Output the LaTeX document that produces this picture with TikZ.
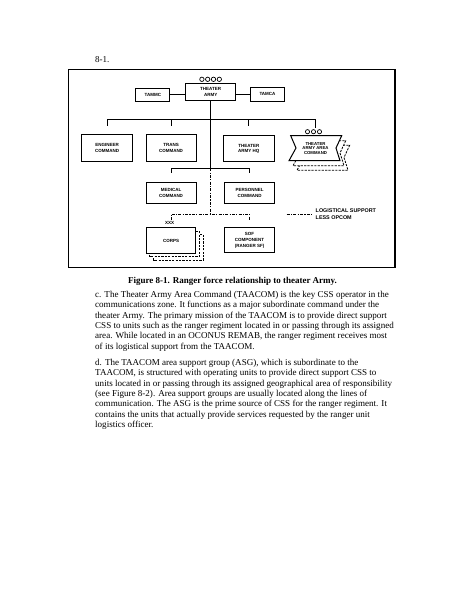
\documentclass[tikz,border=0pt]{standalone}
\usepackage{fontspec}
\setmainfont{Liberation Serif}
\newfontfamily\lblfont{Liberation Sans}
\usetikzlibrary{calc}
\tikzset{
  orgbox/.style={draw, line width=1pt, fill=white, align=center, inner sep=0pt,
    font=\lblfont\bfseries\fontsize{4.5}{5.8}\selectfont},
  conn/.style={line width=1pt},
  logi/.style={line width=1pt, dash pattern=on 3pt off 1.3pt on 1.1pt off 1.3pt},
  shadowline/.style={line width=0.8pt, dash pattern=on 2.2pt off 1.2pt, fill=white},
  bodyline/.style={anchor=base west, inner sep=0pt, font=\fontsize{9.05}{10}\selectfont},
  echelon/.style={line width=0.7pt},
}
\begin{document}
\begin{tikzpicture}[x=1pt,y=-1pt]
\useasboundingbox (0,0) rectangle (463,599);
\fill[white] (0,0) rectangle (463,599);

\node[anchor=base west, inner sep=0pt, font=\fontsize{9}{10}\selectfont] (num) at (95,63) {8-1.};

% frame
\draw[line width=1.3pt] (68.3,69.5) rectangle (395,267.5);

% top row
\node[orgbox, minimum width=50pt, minimum height=17.4pt] (ta) at (210.7,92) {THEATER\\ARMY};
\node[orgbox, minimum width=34.3pt, minimum height=12.7pt] (tammc) at (152.8,94.7) {TAMMC};
\node[orgbox, minimum width=33.6pt, minimum height=13.7pt] (tamca) at (267.5,94.2) {TAMCA};
\foreach \cx in {201.9,207.7,213.5,219.3} \draw[echelon] (\cx,79.3) circle (2.2pt);

\draw[conn] (tammc.east) -- (tammc.east -| ta.west);
\draw[conn] (tamca.west) -- (tamca.west -| ta.east);

% second row
\node[orgbox, minimum width=51pt, minimum height=26.7pt] (eng) at (107.2,148.3) {ENGINEER\\COMMAND};
\node[orgbox, minimum width=50pt, minimum height=26.7pt] (trans) at (171,148.3) {TRANS\\COMMAND};
\node[orgbox, minimum width=51pt, minimum height=25.7pt] (tahq) at (248.8,148.8) {THEATER\\ARMY HQ};

% TAACOM banner with shadows
\foreach \dx/\dy in {8/9.5,4/5}{
  \draw[shadowline] ($(290.7,135.7)+(\dx,\dy)$) -- ($(341.7,135.7)+(\dx,\dy)$) -- ($(336,148)+(\dx,\dy)$)
     -- ($(340,160.7)+(\dx,\dy)$) -- ($(289,160.7)+(\dx,\dy)$) -- ($(296,148)+(\dx,\dy)$) -- cycle;
}
\draw[line width=1pt, fill=white] (290.7,135.7) -- (341.7,135.7) -- (336,148) -- (340,160.7) -- (289,160.7) -- (296,148) -- cycle;
\node[inner sep=0pt, minimum width=50pt, minimum height=25pt, align=center,
  font=\lblfont\bfseries\fontsize{4.3}{4.6}\selectfont] (taac) at (315.5,148.2) {THEATER\\ARMY AREA\\COMMAND};
\foreach \cx in {307.5,313.5,319.5} \draw[echelon] (\cx,131.7) circle (2.1pt);

% top bus
\coordinate (bus) at (210.7,120);
\draw[conn] (ta.south) -- (bus);
\draw[conn] (eng.north |- bus) -- (taac.north |- bus);
\draw[conn, shorten <=8.6pt] (eng.north) -- (eng.north |- bus);
\draw[conn, shorten <=8.6pt] (trans.north) -- (trans.north |- bus);
\draw[conn, shorten <=9.6pt] (tahq.north) -- (tahq.north |- bus);
\draw[conn, shorten <=8pt] (taac.north) -- (taac.north |- bus);

% third row
\node[orgbox, minimum width=50pt, minimum height=20.6pt] (med) at (171,193) {MEDICAL\\COMMAND};
\node[orgbox, minimum width=50.7pt, minimum height=20.6pt] (pers) at (249.6,193) {PERSONNEL\\COMMAND};
\coordinate (bus2) at (210.7,168.3);
\draw[conn] (bus) -- (bus2);
\draw[conn] (med.north |- bus2) -- (pers.north |- bus2);
\draw[conn, shorten <=9.4pt] (med.north) -- (med.north |- bus2);
\draw[conn, shorten <=9.4pt] (pers.north) -- (pers.north |- bus2);

% bottom row
\foreach \dx/\dy in {7.6/6.7,3.6/3.4}{
  \draw[shadowline] ($(146,227.7)+(\dx,\dy)$) rectangle ($(195.7,253.3)+(\dx,\dy)$);
}
\node[orgbox, minimum width=49.7pt, minimum height=25.6pt] (corps) at (171,240.5) {CORPS};
\node[orgbox, minimum width=50.7pt, minimum height=25pt] (sof) at (249.6,240.2) {SOF\\COMPONENT\\(RANGER SF)};
\node[inner sep=0pt, font=\lblfont\bfseries\fontsize{4.5}{5}\selectfont] (xxx) at (169.5,222.8) {XXX};

\coordinate (logc) at (210.7,214);
\draw[logi] (bus2) -- (logc);
\draw[logi, shorten <=7.2pt, shorten >=7.5pt] (corps.north) |- (logc) -| (sof.north);

% legend
\coordinate (lega) at (286.7,214);
\coordinate (legb) at (312.3,214);
\draw[logi] (lega) -- (legb);
\node[anchor=west, inner sep=0pt, align=left, font=\lblfont\bfseries\fontsize{5.4}{7.6}\selectfont] (legt) at (315.5,214.3) {LOGISTICAL SUPPORT\\LESS OPCOM};

% caption
\node[anchor=base, inner sep=0pt, font=\bfseries\fontsize{9}{10}\selectfont] (cap) at (232.5,283) {Figure 8-1. Ranger force relationship to theater Army.};

% paragraph c
\node[bodyline] (c1) at (95,297.3) {c. The Theater Army Area Command (TAACOM) is the key CSS operator in the};
\node[bodyline] (c2) at (95,307.65) {communications zone. It functions as a major subordinate command under the};
\node[bodyline] (c3) at (95,318) {theater Army. The primary mission of the TAACOM is to provide direct support};
\node[bodyline] (c4) at (95,328.35) {CSS to units such as the ranger regiment located in or passing through its assigned};
\node[bodyline] (c5) at (95,338.7) {area. While located in an OCONUS REMAB, the ranger regiment receives most};
\node[bodyline] (c6) at (95,349.05) {of its logistical support from the TAACOM.};

% paragraph d
\node[bodyline] (d1) at (95,365.3) {d. The TAACOM area support group (ASG), which is subordinate to the};
\node[bodyline] (d2) at (95,375.65) {TAACOM, is structured with operating units to provide direct support CSS to};
\node[bodyline] (d3) at (95,386) {units located in or passing through its assigned geographical area of responsibility};
\node[bodyline] (d4) at (95,396.35) {(see Figure 8-2). Area support groups are usually located along the lines of};
\node[bodyline] (d5) at (95,406.7) {communication. The ASG is the prime source of CSS for the ranger regiment. It};
\node[bodyline] (d6) at (95,417.05) {contains the units that actually provide services requested by the ranger unit};
\node[bodyline] (d7) at (95,427.4) {logistics officer.};
\end{tikzpicture}
\end{document}
